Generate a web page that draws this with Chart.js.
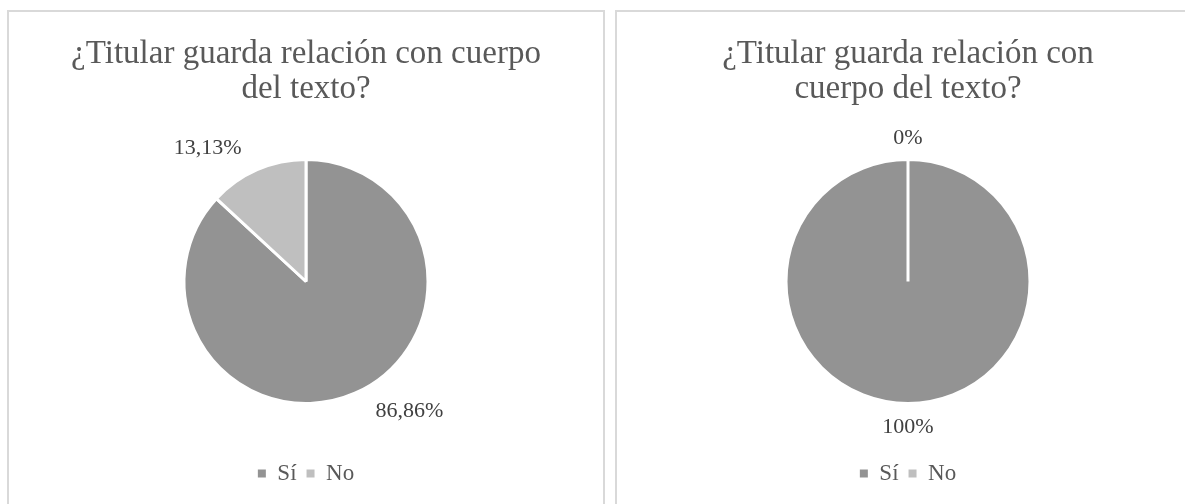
<!DOCTYPE html>
<html>
<head>
<meta charset="utf-8">
<script src="https://cdn.jsdelivr.net/npm/chart.js@4.4.0/dist/chart.umd.min.js"></script>
<style>
  body { margin: 0; background: #fff; width: 1185px; height: 504px; overflow: hidden; position: relative; }
  .panel { position: absolute; top: 10px; border: 2px solid #d9d9d9; background: #fff; height: 498px; }
  #p1 { left: 7px; width: 594px; }
  #p2 { left: 615px; width: 582px; }
  canvas { display: block; }
</style>
</head>
<body>
<div class="panel" id="p1"><canvas id="c1"></canvas></div>
<div class="panel" id="p2"><canvas id="c2"></canvas></div>
<script>
const categories = ["Sí", "No"];
const valuesLeft = [86.86, 13.13];
const valuesRight = [100, 0];
const titleLeft = ["¿Titular guarda relación con cuerpo", "del texto?"];
const titleRight = ["¿Titular guarda relación con", "cuerpo del texto?"];
const sliceColors = ["#939393", "#bfbfbf"];

const SERIF = "'Liberation Serif', 'Times New Roman', serif";

// percent labels outside the slices, like Excel's outside-end labels
const sliceLabels = {
  id: "sliceLabels",
  afterDatasetsDraw(chart, args, opts) {
    const ctx = chart.ctx;
    const meta = chart.getDatasetMeta(0);
    const data = chart.data.datasets[0].data;
    ctx.save();
    ctx.font = opts.size + "px " + SERIF;
    ctx.fillStyle = "#404040";
    ctx.textAlign = "center";
    ctx.textBaseline = "middle";
    meta.data.forEach((arc, i) => {
      const p = arc.getProps(["x", "y", "startAngle", "endAngle", "outerRadius"], true);
      const mid = (p.startAngle + p.endAngle) / 2;
      const text = String(data[i]).replace(".", ",") + "%";
      const w = ctx.measureText(text).width;
      const h = opts.size;
      const r = p.outerRadius + opts.gap;
      const n = (opts.nudges && opts.nudges[i]) || [0, 0];
      const x = p.x + Math.cos(mid) * (r + w / 2 * Math.abs(Math.cos(mid))) + n[0];
      const y = p.y + Math.sin(mid) * (r + h / 2 * Math.abs(Math.sin(mid))) + n[1];
      ctx.fillText(text, x, y);
    });
    ctx.restore();
  }
};

function makeChart(id, values, title, nudges) {
  return new Chart(document.getElementById(id), {
    type: "pie",
    data: {
      labels: categories,
      datasets: [{
        data: values,
        backgroundColor: sliceColors,
        borderColor: "#ffffff",
        borderWidth: 3,
        radius: 122
      }]
    },
    plugins: [sliceLabels],
    options: {
      responsive: true,
      maintainAspectRatio: false,
      animation: false,
      events: [],
      layout: { padding: { left: 0, right: 0, top: 0, bottom: 15 } },
      plugins: {
        title: {
          display: true,
          text: title,
          color: "#595959",
          font: { family: SERIF, size: 33, weight: "normal", lineHeight: 1.06 },
          padding: { top: 25, bottom: 4 }
        },
        legend: {
          display: true,
          position: "bottom",
          labels: {
            color: "#595959",
            font: { family: SERIF, size: 23 },
            boxWidth: 8,
            boxHeight: 8,
            padding: 10,
            generateLabels: (chart) => categories.map((c, i) => ({
              text: c,
              fillStyle: sliceColors[i],
              strokeStyle: sliceColors[i],
              lineWidth: 0,
              fontColor: "#595959",
              index: i,
              hidden: false
            }))
          }
        },
        tooltip: { enabled: false },
        sliceLabels: { gap: 10, size: 22, nudges: nudges }
      }
    }
  });
}

makeChart("c1", valuesLeft, titleLeft, [[45, 0], [-40, -3]]);
makeChart("c2", valuesRight, titleRight, [[0, 3], [0, 0]]);
</script>
</body>
</html>
